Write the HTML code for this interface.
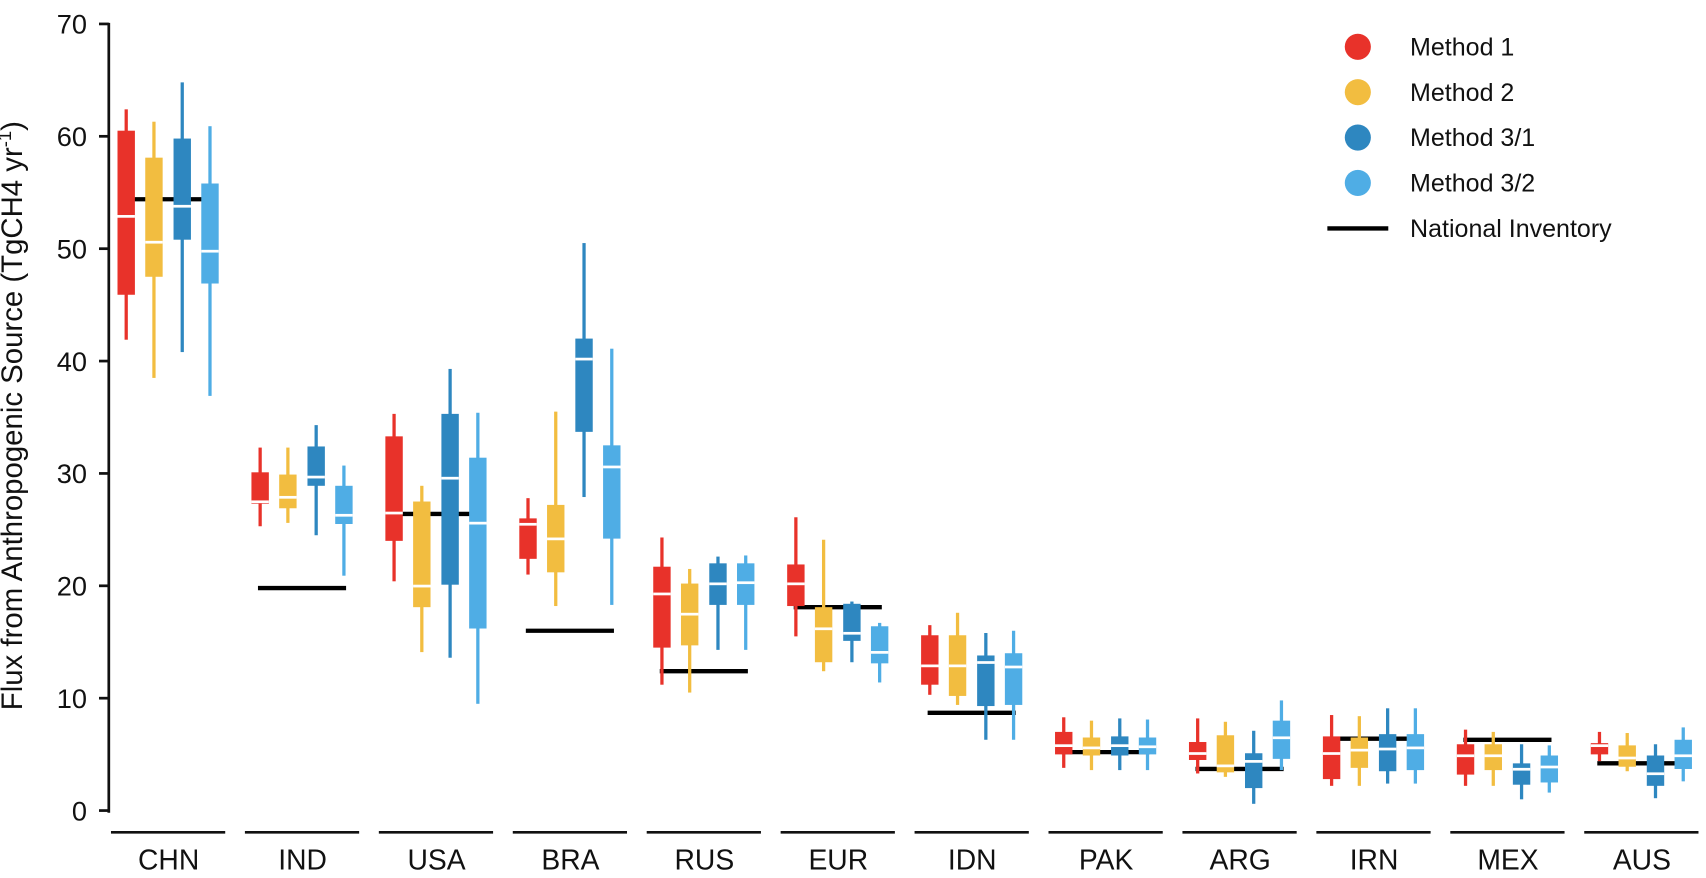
<!DOCTYPE html>
<html><head><meta charset="utf-8"><style>
body{margin:0;background:#fff;}
svg{display:block;font-family:"Liberation Sans","DejaVu Sans",sans-serif;}
</style></head><body>
<svg id="chart" width="1706" height="878"><g id="root" transform="scale(1.088)"></g></svg>
<script>
const categories=["CHN","IND","USA","BRA","RUS","EUR","IDN","PAK","ARG","IRN","MEX","AUS"];
const seriesNames=["Method 1","Method 2","Method 3/1","Method 3/2"];
// each entry: [whiskerTop, q3, median, q1, whiskerBottom]
const method1=[[62.4,60.5,52.9,45.9,41.9],[32.3,30.1,27.5,27.3,25.3],[35.3,33.3,26.5,24.0,20.4],[27.8,26.0,25.5,22.4,21.0],[24.3,21.7,19.3,14.5,11.2],[26.1,21.9,20.2,18.2,15.5],[16.5,15.6,12.9,11.2,10.3],[8.3,7.0,5.8,5.0,3.8],[8.2,6.1,5.1,4.5,3.3],[8.5,6.6,5.1,2.8,2.2],[7.2,5.9,4.9,3.2,2.2],[7.0,6.0,5.8,5.0,4.4]];
const method2=[[61.3,58.1,50.6,47.5,38.5],[32.3,29.9,27.9,26.9,25.6],[28.9,27.5,20.0,18.1,14.1],[35.5,27.2,24.2,21.2,18.2],[21.5,20.2,17.5,14.7,10.5],[24.1,18.1,16.2,13.2,12.4],[17.6,15.6,12.9,10.2,9.4],[8.0,6.5,5.6,4.9,3.6],[7.9,6.7,4.0,3.4,3.0],[8.4,6.5,5.4,3.8,2.2],[7.0,5.9,4.9,3.6,2.2],[6.9,5.8,4.7,3.9,3.5]];
const method31=[[64.8,59.8,53.8,50.8,40.8],[34.3,32.4,29.7,28.9,24.5],[39.3,35.3,29.6,20.1,13.6],[50.5,42.0,40.2,33.7,27.9],[22.6,22.0,20.2,18.3,14.3],[18.6,18.4,15.8,15.1,13.2],[15.8,13.8,13.2,9.3,6.3],[8.2,6.6,5.8,4.9,3.6],[7.1,5.1,4.4,2.0,0.6],[9.1,6.8,5.5,3.5,2.4],[5.9,4.2,3.7,2.3,1.0],[5.9,4.9,3.3,2.2,1.1]];
const method32=[[60.9,55.8,49.8,46.9,36.9],[30.7,28.9,26.3,25.5,20.9],[35.4,31.4,25.6,16.2,9.5],[41.1,32.5,30.6,24.2,18.3],[22.7,22.0,20.3,18.3,14.3],[16.7,16.4,14.1,13.1,11.4],[16.0,14.0,12.8,9.4,6.3],[8.1,6.5,5.7,5.0,3.6],[9.8,8.0,6.5,4.6,3.6],[9.1,6.8,5.6,3.6,2.4],[5.8,4.9,3.9,2.5,1.6],[7.4,6.3,4.9,3.7,2.6]];
const inventory=[54.4,19.8,26.4,16.0,12.4,18.1,8.7,5.2,3.7,6.4,6.3,4.2];
const yTicks=[0,10,20,30,40,50,60,70];
const colors=["#e8322a","#f2bd40","#2e87c0","#4fade5"];

const NS="http://www.w3.org/2000/svg";
const svg=document.getElementById("root");
function y(v){return 745-v*(723/70);}
function x(i){return 155+i*123.1;}
function mk(tag,attrs,parent){const e=document.createElementNS(NS,tag);for(const k in attrs)e.setAttribute(k,attrs[k]);(parent||svg).appendChild(e);return e;}

const ax=mk("line",{x1:100,y1:y(70)-1,x2:100,y2:y(0)+2,stroke:"#111","stroke-width":2.5});


yTicks.forEach(t=>{
  const tk=mk("line",{x1:91,y1:y(t),x2:100,y2:y(t),stroke:"#111","stroke-width":2.5});
  
  
  const tl=mk("text",{x:80,y:y(t)+9,"text-anchor":"end","font-size":25,fill:"#111"});
  tl.textContent=t;
  
  
});
const yt=mk("text",{x:0,y:0,transform:"translate(20,382) rotate(-90)","text-anchor":"middle","font-size":27,fill:"#111"});
yt.innerHTML='Flux from Anthropogenic Source (TgCH4 yr<tspan dy="-10" font-size="17">-1</tspan><tspan dy="10">)</tspan>';



const series=[method1,method2,method31,method32];
const offs=[-39,-13.5,12.5,38];
categories.forEach((c,i)=>{
  const cx=x(i);
  const seg=mk("line",{x1:cx-53,y1:765,x2:cx+52,y2:765,stroke:"#111","stroke-width":2.5});
  
  
  const lab=mk("text",{x:cx,y:799,"text-anchor":"middle","font-size":26,fill:"#111"});
  lab.textContent=c;
  
  
  const inv=mk("line",{x1:cx-41,y1:y(inventory[i]),x2:cx+40,y2:y(inventory[i]),stroke:"#000","stroke-width":4});
  
  
  series.forEach((s,k)=>{
    const d=s[i],bx=cx+offs[k],col=colors[k];
    const g=mk("g",{});
    
    
    mk("rect",{x:bx-1.5,y:y(d[0]),width:3,height:y(d[4])-y(d[0]),fill:col},g);
    mk("rect",{x:bx-8,y:y(d[1]),width:16,height:y(d[3])-y(d[1]),fill:col},g);
    mk("rect",{x:bx-8,y:y(d[2])-1,width:16,height:2.5,fill:"#fff"},g);
  });
});

const leg=mk("g",{});


seriesNames.forEach((n,k)=>{
  const yy=43+k*41.7;
  const ent=mk("g",{},leg);
  
  
  mk("circle",{cx:1248,cy:yy,r:12,fill:colors[k]},ent);
  const t=mk("text",{x:1296,y:yy+8,"font-size":23,fill:"#111"},ent);
  t.textContent=n;
});
const ie=mk("g",{},leg);


mk("line",{x1:1220,y1:210,x2:1276,y2:210,stroke:"#000","stroke-width":4},ie);
const it=mk("text",{x:1296,y:218,"font-size":23,fill:"#111"},ie);
it.textContent="National Inventory";
</script>
</body></html>
